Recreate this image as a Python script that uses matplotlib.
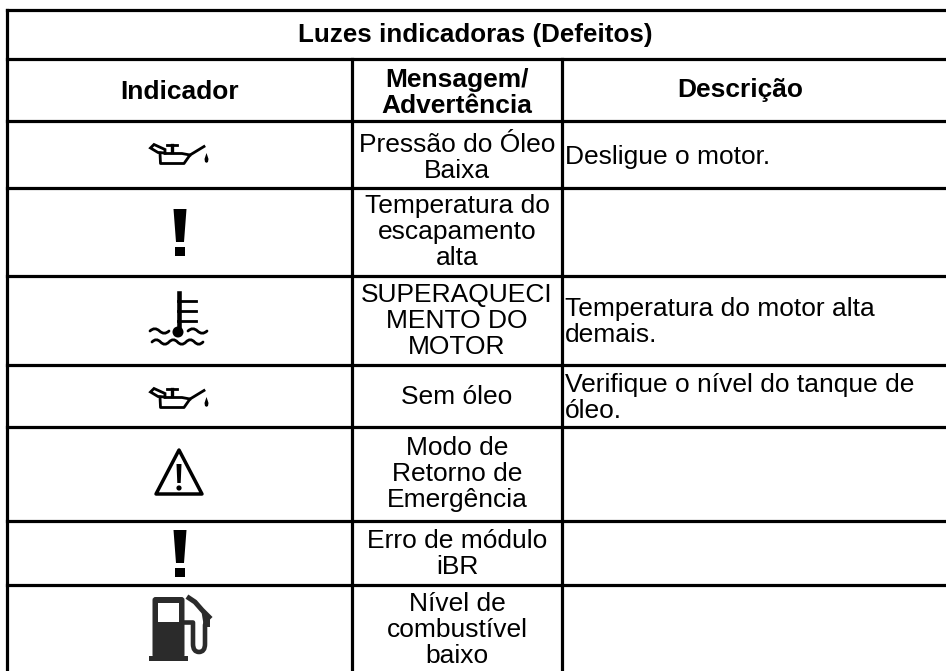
import matplotlib
matplotlib.use('Agg')
import matplotlib.pyplot as plt
from matplotlib.patches import Polygon, Circle, FancyBboxPatch, PathPatch
from matplotlib.path import Path

plt.rcParams['font.family'] = ['Liberation Sans', 'DejaVu Sans']

W, H = 946, 671

title = 'Luzes indicadoras (Defeitos)'
headers = ['Indicador', 'Mensagem/\nAdvertência', 'Descrição']
messages = ['Pressão do Óleo\nBaixa',
            'Temperatura do\nescapamento\nalta',
            'SUPERAQUECI\nMENTO DO\nMOTOR',
            'Sem óleo',
            'Modo de\nRetorno de\nEmergência',
            'Erro de módulo\niBR',
            'Nível de\ncombustível\nbaixo']
descriptions = ['Desligue o motor.', '',
                'Temperatura do motor alta\ndemais.',
                'Verifique o nível do tanque de\nóleo.', '', '', '']

col_x = [7, 352, 562]
row_y = [10, 59, 121, 188, 276, 365, 427, 521, 585]
text_y = [158, 232, 321, 397, 474, 554, 630]

K = '#000000'
PUMP = '#2b2b2b'

fig = plt.figure(figsize=(W / 100, H / 100), dpi=100)
ax = fig.add_axes([0, 0, 1, 1])
ax.set_xlim(0, W)
ax.set_ylim(H, 0)
ax.axis('off')


def draw_can(cx, cy):
    lw = 2.0
    ax.add_patch(Polygon([[cx-27.5, cy-6], [cx-24, cy-9.5], [cx-13, cy-4.5], [cx-13, cy-1], [cx-20, cy-1.5]],
                         closed=True, fill=False, ec=K, lw=lw))
    ax.plot([cx-18, cx-17.5, cx+6, cx+12, cx+26], [cy-1, cy+9.5, cy+9.5, cy+1, cy-7.5], color=K, lw=lw)
    ax.plot([cx-13, cx+4, cx+12], [cy-0.5, cy-0.5, cy+1], color=K, lw=lw)
    ax.plot([cx-11, cx-1], [cy-9, cy-9], color=K, lw=lw)
    ax.plot([cx-6, cx-6], [cy-9, cy-2], color=K, lw=lw+0.4)
    ax.add_patch(Polygon([[cx+28.5, cy-1], [cx+30.5, cy+5], [cx+30, cy+8], [cx+28.5, cy+8.8], [cx+27, cy+8], [cx+26.5, cy+5]],
                         color=K, lw=0))


def draw_bang(cx, top):
    ax.add_patch(Polygon([[cx-6.5, top], [cx+6.5, top], [cx+4, top+33], [cx-4, top+33]], color=K, lw=0))
    ax.add_patch(Polygon([[cx-5, top+38], [cx+5, top+38], [cx+5, top+47], [cx-5, top+47]], color=K, lw=0))


def draw_wave(x0, x1, y, n):
    # n humps as quadratic curves
    step = (x1 - x0) / (n * 2)
    verts = [(x0, y)]
    codes = [Path.MOVETO]
    for i in range(n * 2):
        up = -4.5 if i % 2 == 0 else 4.5
        verts += [(x0 + (i + 0.5) * step, y + up), (x0 + (i + 1) * step, y)]
        codes += [Path.CURVE3, Path.CURVE3]
    ax.add_patch(PathPatch(Path(verts, codes), fill=False, ec=K, lw=2.0, capstyle='round'))


def draw_temp(cx, cy):
    ax.plot([cx+1, cx+1], [cy-39, cy], color=K, lw=3.3)
    for dy in [-31, -21.5, -11.5]:
        ax.plot([cx, cx+18], [cy+dy, cy+dy], color=K, lw=2.0)
    ax.add_patch(Circle((cx, cy), 5.5, color=K, lw=0))
    draw_wave(cx-28, cx-9, cy-1, 1)
    draw_wave(cx+10, cx+29, cy-1, 1)
    draw_wave(cx-26, cx+25, cy+10, 3)


def draw_warn(cx, top):
    ax.add_patch(Polygon([[cx, top], [cx+23, top+44], [cx-23, top+44]], closed=True, fill=False, ec=K, lw=2.5, joinstyle='round'))
    ax.add_patch(Polygon([[cx-2.5, top+14], [cx+2.5, top+14], [cx+1.7, top+33], [cx-1.7, top+33]], color=K, lw=0))
    ax.add_patch(Circle((cx, top+38), 2.6, color=K, lw=0))


def draw_fuel(x, y):
    ax.add_patch(FancyBboxPatch((x+3.5, y), 32, 61, boxstyle='round,pad=0,rounding_size=3', fc=PUMP, ec=PUMP, lw=0))
    ax.add_patch(Polygon([[x+9, y+6], [x+30, y+6], [x+30, y+24.5], [x+9, y+24.5]], color='white', lw=0))
    ax.add_patch(Polygon([[x, y+58.5], [x+39, y+58.5], [x+39, y+64], [x, y+64]], color=PUMP, lw=0))
    # hose
    verts = [(x+35, y+25.5), (x+44, y+25.5), (x+44, y+32), (x+44, y+47), (x+44, y+55),
             (x+50, y+55), (x+56, y+55), (x+56, y+47), (x+56, y+28), (x+59, y+18)]
    codes = [Path.MOVETO, Path.LINETO, Path.CURVE3, Path.LINETO, Path.CURVE3,
             Path.CURVE3, Path.CURVE3, Path.CURVE3, Path.LINETO, Path.LINETO]
    ax.add_patch(PathPatch(Path(verts, codes), fill=False, ec=PUMP, lw=3.3, joinstyle='round'))
    ax.plot([x+40, x+46, x+53, x+60], [y+1, y+5, y+13, y+20], color=PUMP, lw=3.6, solid_joinstyle='round')
    ax.add_patch(Polygon([[x+52, y+12], [x+61, y+20], [x+61, y+30], [x+55, y+30]], color=PUMP, lw=0))


# table lines, no border on the right
for y in row_y:
    ax.plot([col_x[0], W], [y, y], color=K, lw=2.3, solid_capstyle='projecting')
ax.plot([col_x[0], col_x[0]], [row_y[0], H], color=K, lw=2.3)
for x in col_x[1:]:
    ax.plot([x, x], [row_y[1], H], color=K, lw=2.3)

size = 19
spacing = 1.12
ax.text(475, 35, title, ha='center', va='center', fontsize=18.7, fontweight='bold')
ax.text(180, 92, headers[0], ha='center', va='center', fontsize=size, fontweight='bold')
ax.text(457, 93, headers[1], ha='center', va='center', fontsize=size, fontweight='bold', linespacing=spacing)
ax.text(740, 90, headers[2], ha='center', va='center', fontsize=size, fontweight='bold')

for i, m in enumerate(messages):
    ax.text(457, text_y[i], m, ha='center', va='center', fontsize=size, linespacing=spacing)
    if descriptions[i]:
        ax.text(565, text_y[i] + (1 if i else -1), descriptions[i], ha='left', va='center', fontsize=size, linespacing=spacing)

draw_can(178, 154)
draw_bang(180, 209)
draw_temp(178, 332)
draw_can(178, 398)
draw_warn(179, 450)
draw_bang(180, 530)
draw_fuel(149, 597)

fig.savefig('out.png', dpi=100)
